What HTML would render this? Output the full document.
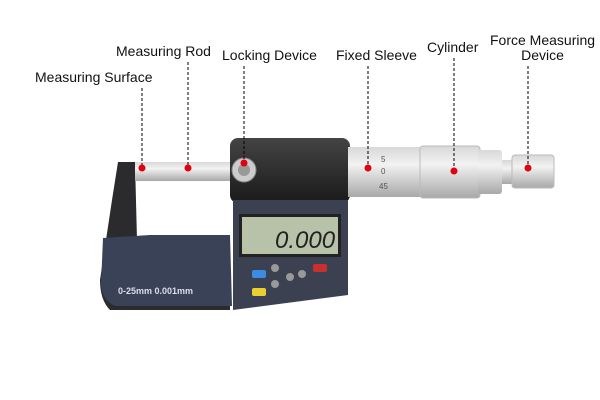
<!DOCTYPE html>
<html><head><style>
body{margin:0;width:600px;height:400px;background:#fff;position:relative;overflow:hidden;font-family:"Liberation Sans",sans-serif}
.t{position:absolute;font-size:14px;color:#111;white-space:nowrap}
</style></head><body>
<svg width="600" height="400" style="position:absolute;left:0;top:0">
<defs>
<linearGradient id="met" x1="0" y1="0" x2="0" y2="1"><stop offset="0" stop-color="#d8d8d8"/><stop offset="0.35" stop-color="#f2f2f2"/><stop offset="1" stop-color="#a8a8a8"/></linearGradient>
<linearGradient id="blk" x1="0" y1="0" x2="0" y2="1"><stop offset="0" stop-color="#444"/><stop offset="1" stop-color="#1a1a1a"/></linearGradient>
</defs>
<path d="M118,162 L135,162 L137,240 L230,240 L230,310 L110,310 Q100,300 100,280 L112,200 Z" fill="#2b2b2d"/>
<path d="M103,238 L150,235 L230,235 L232,306 L115,306 Q102,300 101,285 Z" fill="#3a4258"/>
<text x="118" y="294" font-size="9" font-weight="bold" fill="#dde" font-family="Liberation Sans">0-25mm 0.001mm</text>
<rect x="135" y="162" width="100" height="19" fill="url(#met)"/>
<rect x="230" y="138" width="120" height="65" rx="8" fill="url(#blk)"/>
<circle cx="244" cy="170" r="12" fill="#ccc" stroke="#888"/>
<circle cx="244" cy="170" r="6" fill="#999"/>
<path d="M233,200 L348,200 L348,295 L233,310 Z" fill="#3b4150"/>
<rect x="239" y="214" width="102" height="43" fill="#222"/>
<rect x="242" y="217" width="96" height="37" fill="#b7c2a9"/>
<text x="275" y="248" font-size="24" font-style="italic" fill="#222" font-family="Liberation Sans">0.000</text>
<rect x="252" y="270" width="14" height="8" rx="2" fill="#3a8de0"/>
<rect x="252" y="288" width="14" height="8" rx="2" fill="#e8d030"/>
<rect x="313" y="264" width="14" height="8" rx="2" fill="#c83030"/>
<circle cx="275" cy="268" r="4" fill="#999"/><circle cx="275" cy="284" r="4" fill="#999"/>
<circle cx="290" cy="277" r="4" fill="#999"/><circle cx="302" cy="274" r="4" fill="#999"/>
<rect x="348" y="147" width="80" height="50" fill="url(#met)"/>
<text x="381" y="162" font-size="8" fill="#555">5</text>
<text x="381" y="174" font-size="8" fill="#555">0</text>
<text x="379" y="189" font-size="8" fill="#555">45</text>
<rect x="420" y="146" width="60" height="52" rx="3" fill="url(#met)" stroke="#bbb"/>
<rect x="478" y="150" width="24" height="44" rx="3" fill="url(#met)"/>
<rect x="502" y="160" width="12" height="24" fill="url(#met)"/>
<rect x="512" y="155" width="42" height="33" rx="3" fill="url(#met)" stroke="#bbb"/>
<g stroke="#000" stroke-dasharray="3,2" stroke-width="1">
<line x1="142" y1="88" x2="142" y2="168"/>
<line x1="188" y1="62" x2="188" y2="168"/>
<line x1="244" y1="66" x2="244" y2="163"/>
<line x1="368" y1="66" x2="368" y2="168"/>
<line x1="454" y1="58" x2="454" y2="171"/>
<line x1="528" y1="66" x2="528" y2="168"/>
</g>
<g fill="#e00010">
<circle cx="142" cy="168" r="3.5"/><circle cx="188" cy="168" r="3.5"/><circle cx="244" cy="163" r="3.5"/>
<circle cx="368" cy="168" r="3.5"/><circle cx="454" cy="171" r="3.5"/><circle cx="528" cy="168" r="3.5"/>
</g>
</svg>
<div class="t" style="left:35px;top:69px">Measuring Surface</div>
<div class="t" style="left:116px;top:43px">Measuring Rod</div>
<div class="t" style="left:222px;top:47px">Locking Device</div>
<div class="t" style="left:336px;top:47px">Fixed Sleeve</div>
<div class="t" style="left:427px;top:39px">Cylinder</div>
<div class="t" style="left:490px;top:33px;text-align:center;line-height:15px">Force Measuring<br>Device</div>
</body></html>
